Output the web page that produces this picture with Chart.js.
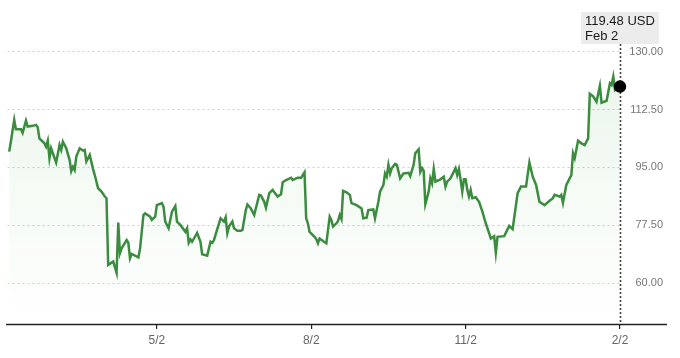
<!DOCTYPE html>
<html>
<head>
<meta charset="utf-8">
<script src="https://cdn.jsdelivr.net/npm/chart.js@4"></script>
<style>
  html, body { margin: 0; padding: 0; background: #fff; }
  #wrap { width: 680px; height: 358px; }
</style>
</head>
<body>
<div id="wrap"><canvas id="chart" width="680" height="358"></canvas></div>
<script>
// ── data: days since Feb 2 of previous year, closing price in USD ──
const days = [
  1,2,4,5,8,9,11,12,15,17,
  18,19,22,23,24,25,26,27,29,31,
  32,33,35,37,38,39,40,41,43,45,
  46,47,49,51,52,54,56,58,59,60,
  63,65,66,67,68,71,72,73,74,78,
  79,81,82,85,86,88,89,92,93,94,
  96,98,100,101,103,106,107,108,109,110,
  113,115,116,119,121,122,123,125,127,129,
  130,131,132,134,135,137,139,140,142,143,
  145,147,150,151,153,154,156,158,159,161,
  163,164,166,169,170,172,173,175,177,178,
  179,180,183,184,185,186,188,190,192,193,
  194,196,197,198,199,200,202,204,205,208,
  211,212,214,215,218,219,221,222,224,225,
  226,227,228,229,231,232,234,236,239,240,
  242,243,245,246,247,248,249,251,252,253,
  254,255,258,260,261,262,264,267,268,269,
  270,271,272,273,274,275,276,277,279,281,
  283,285,287,288,290,291,292,296,299,301,
  304,306,309,311,313,315,317,320,323,325,
  326,329,330,331,333,336,337,338,340,342,
  344,346,347,349,351,353,354,357,359,360,
  361,362,364,365
];
const prices = [
  99.8,102.8,109.4,106.6,106.6,105.5,109.2,107.4,107.6,107.9,
  107.2,103.8,102.3,101.3,103.1,97.8,100.8,99.3,96.5,101.8,
  100.3,102.8,100.8,97.3,93.9,95.2,94.2,98.3,100.8,100.1,
  100.3,96.8,98.8,94.5,92.7,88.7,87.7,86.2,85.7,65.5,
  66.5,63.1,78.3,69.0,70.5,73.0,72.2,67.5,68.8,67.8,
  70.5,80.6,81.1,80.1,79.1,80.1,83.6,84.2,83.1,78.6,
  76.6,81.6,83.3,78.6,77.6,75.5,76.6,72.2,73.2,72.5,
  75.2,72.5,68.7,68.3,72.5,72.2,73.0,76.3,79.6,78.6,
  79.9,75.1,77.1,78.6,76.6,75.8,75.8,76.1,82.1,83.8,
  82.6,80.6,86.7,86.5,84.6,82.8,87.2,88.2,87.5,86.2,
  86.9,90.5,91.2,91.9,91.2,91.7,91.9,91.9,93.5,79.6,
  78.1,75.5,74.0,73.3,72.0,73.5,72.7,72.0,80.1,79.1,
  77.1,78.1,78.8,80.6,79.4,87.9,87.5,86.7,84.2,83.6,
  82.6,79.6,79.8,82.1,82.3,79.6,84.6,87.7,89.7,93.2,
  92.2,95.8,93.2,94.8,96.1,95.8,91.7,93.2,93.4,92.4,
  95.8,99.3,100.5,93.7,94.8,94.0,83.9,87.7,91.7,90.2,
  94.5,90.7,91.4,92.2,89.2,90.7,91.7,94.8,92.7,94.5,
  91.4,87.7,91.4,91.4,88.2,86.2,88.2,85.7,86.0,84.6,
  81.6,78.1,75.1,73.5,74.2,69.2,74.0,74.2,77.3,76.3,
  87.2,89.2,89.2,96.5,92.2,89.7,84.6,83.6,84.9,85.7,
  86.7,86.2,86.7,84.3,89.7,92.7,99.3,97.8,103.1,102.3,
  101.8,103.8,117.3,116.5,114.9,119.7,114.6,115.2,120.5,120.0,
  122.5,118.5,119.5,119.48
];

// axis ticks
const xTickDays   = [89, 181, 273, 365];
const xTickLabels = ['5/2', '8/2', '11/2', '2/2'];
const yTicks      = [60, 77.5, 95, 112.5, 130];

const lastDateLabel = 'Feb 2';
const currency      = 'USD';

const FONT = '"Liberation Sans", Arial, Helvetica, sans-serif';
const LINE_COLOR = '#3b8c3f';

// ── plugin: full-width axis line, crosshair and value box ──
const markerPlugin = {
  id: 'marker',
  beforeDatasetsDraw(chart) {
    const { ctx, chartArea } = chart;
    const meta = chart.getDatasetMeta(0);
    const pt = meta.data[meta.data.length - 1];
    ctx.save();
    ctx.strokeStyle = '#444';
    ctx.lineWidth = 1.6;
    ctx.setLineDash([2, 2]);
    ctx.beginPath();
    ctx.moveTo(Math.round(pt.x) + 0.5, 44);
    ctx.lineTo(Math.round(pt.x) + 0.5, chartArea.bottom);
    ctx.stroke();
    ctx.restore();
  },
  afterDraw(chart) {
    const { ctx, chartArea } = chart;
    const meta = chart.getDatasetMeta(0);
    const pt = meta.data[meta.data.length - 1];

    // x axis line across the whole width
    ctx.save();
    ctx.strokeStyle = '#222';
    ctx.lineWidth = 1.5;
    ctx.beginPath();
    ctx.moveTo(6, chartArea.bottom + 0.5);
    ctx.lineTo(667, chartArea.bottom + 0.5);
    ctx.stroke();

    // value box
    const line1 = prices[prices.length - 1].toFixed(2) + ' ' + currency;
    ctx.font = '13px ' + FONT;
    const w = Math.max(ctx.measureText(line1).width, ctx.measureText(lastDateLabel).width) + 8;
    const bx = Math.round(pt.x - w / 2);
    ctx.fillStyle = '#ececec';
    ctx.fillRect(bx, 12, w, 32);
    ctx.fillStyle = '#1a1a1a';
    ctx.textBaseline = 'middle';
    ctx.textAlign = 'left';
    ctx.fillText(line1, bx + 4, 21);
    ctx.fillText(lastDateLabel, bx + 4, 36);
    ctx.restore();
  }
};

const ctx = document.getElementById('chart');
new Chart(ctx, {
  type: 'line',
  data: {
    datasets: [{
      data: days.map((d, i) => ({ x: d, y: prices[i] })),
      borderColor: LINE_COLOR,
      borderWidth: 2.5,
      tension: 0,
      clip: false,
      fill: 'start',
      backgroundColor(c) {
        const area = c.chart.chartArea;
        if (!area) return 'rgba(76,175,80,0.06)';
        const g = c.chart.ctx.createLinearGradient(0, area.top, 0, area.bottom);
        g.addColorStop(0, 'rgba(76,175,80,0.12)');
        g.addColorStop(1, 'rgba(76,175,80,0.0)');
        return g;
      },
      pointRadius: c => (c.dataIndex === prices.length - 1 ? 5 : 0),
      pointBackgroundColor: '#000',
      pointBorderColor: '#000',
      pointHoverRadius: 0
    }]
  },
  options: {
    responsive: false,
    animation: false,
    events: [],
    layout: { padding: { left: 5, right: 17, top: 37, bottom: 0 } },
    plugins: {
      legend: { display: false },
      tooltip: { enabled: false }
    },
    scales: {
      x: {
        type: 'linear',
        min: 0,
        max: 365,
        afterBuildTicks: s => { s.ticks = xTickDays.map(v => ({ value: v })); },
        afterFit: s => { s.height = 34; },
        ticks: {
          autoSkip: false,
          maxRotation: 0,
          padding: 4,
          color: '#666',
          font: { family: FONT, size: 12 },
          callback: (v, i) => xTickLabels[i]
        },
        grid: { drawOnChartArea: false, drawTicks: true, tickLength: 5, color: '#222', lineWidth: 1.2 },
        border: { display: false }
      },
      y: {
        type: 'linear',
        position: 'right',
        min: 47.6,
        max: 134.5,
        afterBuildTicks: s => { s.ticks = yTicks.map(v => ({ value: v })); },
        afterFit: s => { s.width = 43; },
        ticks: {
          crossAlign: 'far',
          color: '#777',
          font: { family: FONT, size: 11 },
          callback: v => v.toFixed(2)
        },
        grid: { drawTicks: false, color: '#cfcfcf', lineWidth: 1 },
        border: { display: false, dash: [2, 3] }
      }
    }
  },
  plugins: [markerPlugin]
});
</script>
</body>
</html>
